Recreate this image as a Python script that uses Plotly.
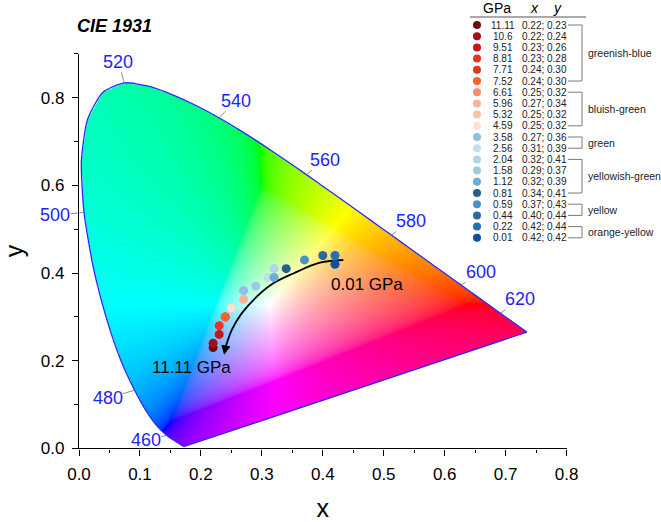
import numpy as np
import zlib, struct, base64
import plotly.graph_objects as go

# ---------------- data ----------------
pressure_labels = ["11.11", "10.6", "9.51", "8.81", "7.71", "7.52", "6.61", "5.96", "5.32", "4.59",
                   "3.58", "2.56", "2.04", "1.58", "1.12", "0.81", "0.59", "0.44", "0.22", "0.01"]
cie_x = [0.22, 0.22, 0.23, 0.23, 0.24, 0.24, 0.25, 0.27, 0.25, 0.25,
         0.27, 0.31, 0.32, 0.29, 0.32, 0.34, 0.37, 0.40, 0.42, 0.42]
cie_y = [0.23, 0.24, 0.26, 0.28, 0.30, 0.30, 0.32, 0.34, 0.32, 0.32,
         0.36, 0.39, 0.41, 0.37, 0.39, 0.41, 0.43, 0.44, 0.44, 0.42]
point_colors = ["#6e0b14", "#a50f15", "#c8141c", "#e8322a", "#e2381a", "#f8632c", "#fc8d6a", "#fcb499",
                "#fcc3ab", "#fde0d0", "#8ec0e0", "#c6dcef", "#b4d4ea", "#9ecae1", "#6aaed6", "#2b5e8c",
                "#4494c8", "#2a6a9c", "#2171b5", "#0b4f9e"]
group_names = ["greenish-blue", "bluish-green", "green", "yellowish-green", "yellow", "orange-yellow"]
group_first = [0, 6, 10, 12, 16, 18]
group_last = [5, 9, 11, 15, 17, 19]

# CIE 1931 2-degree spectral locus (chromaticity x, y), 380-700 nm every 5 nm
wavelengths = list(range(380, 705, 5))
locus_x = [0.1741, 0.1740, 0.1738, 0.1736, 0.1733, 0.1730, 0.1726, 0.1721, 0.1714, 0.1703,
           0.1689, 0.1669, 0.1644, 0.1611, 0.1566, 0.1510, 0.1440, 0.1355, 0.1241, 0.1096,
           0.0913, 0.0687, 0.0454, 0.0235, 0.0082, 0.0039, 0.0139, 0.0389, 0.0743, 0.1142,
           0.1547, 0.1929, 0.2296, 0.2658, 0.3016, 0.3373, 0.3731, 0.4087, 0.4441, 0.4788,
           0.5125, 0.5448, 0.5752, 0.6029, 0.6270, 0.6482, 0.6658, 0.6801, 0.6915, 0.7006,
           0.7079, 0.7140, 0.7190, 0.7230, 0.7260, 0.7283, 0.7300, 0.7311, 0.7320, 0.7327,
           0.7334, 0.7340, 0.7344, 0.7346, 0.7347]
locus_y = [0.0050, 0.0050, 0.0049, 0.0049, 0.0048, 0.0048, 0.0048, 0.0048, 0.0051, 0.0058,
           0.0069, 0.0086, 0.0109, 0.0138, 0.0177, 0.0227, 0.0297, 0.0399, 0.0578, 0.0868,
           0.1327, 0.2007, 0.2950, 0.4127, 0.5384, 0.6548, 0.7502, 0.8120, 0.8338, 0.8262,
           0.8059, 0.7816, 0.7543, 0.7243, 0.6923, 0.6589, 0.6245, 0.5896, 0.5547, 0.5202,
           0.4866, 0.4544, 0.4242, 0.3965, 0.3725, 0.3514, 0.3340, 0.3197, 0.3083, 0.2993,
           0.2920, 0.2859, 0.2809, 0.2770, 0.2740, 0.2717, 0.2700, 0.2689, 0.2680, 0.2673,
           0.2666, 0.2660, 0.2656, 0.2654, 0.2653]
marked_wavelengths = [460, 480, 500, 520, 540, 560, 580, 600, 620]
label_dx = [-21, -27, -29, -6, 17, 19, 20, 20, 20]     # label offset (px)
label_dy = [5, 8, 3, -21, -17, -15, -14, -13, -14]

FONT = "Arial, 'Liberation Sans', sans-serif"
W, H = 661, 522

# ---------------- chromaticity background image ----------------
def inside_poly(px, py, vx, vy):
    res = np.zeros(px.shape, bool)
    n = len(vx)
    j = n - 1
    for i in range(n):
        xi, yi, xj, yj = vx[i], vy[i], vx[j], vy[j]
        cond = (yi > py) != (yj > py)
        with np.errstate(divide="ignore", invalid="ignore"):
            xint = (xj - xi) * (py - yi) / (yj - yi) + xi
        res ^= cond & (px < xint)
        j = i
    return res


def png_uri(rgba):
    h, w, _ = rgba.shape
    raw = np.zeros((h, w * 4 + 1), np.uint8)
    raw[:, 1:] = rgba.reshape(h, -1)

    def chunk(t, d):
        return struct.pack(">I", len(d)) + t + d + struct.pack(">I", zlib.crc32(t + d) & 0xffffffff)

    png = (b"\x89PNG\r\n\x1a\n" + chunk(b"IHDR", struct.pack(">IIBBBBB", w, h, 8, 6, 0, 0, 0))
           + chunk(b"IDAT", zlib.compress(raw.tobytes(), 9)) + chunk(b"IEND", b""))
    return "data:image/png;base64," + base64.b64encode(png).decode()


gx0, gx1, gy0, gy1 = 0.0, 0.74, 0.0, 0.84
NW, NH = 640, 520
xs = gx0 + (np.arange(NW) + 0.5) * (gx1 - gx0) / NW
ys = gy1 - (np.arange(NH) + 0.5) * (gy1 - gy0) / NH
XX, YY = np.meshgrid(xs, ys)
inside = inside_poly(XX, YY, np.array(locus_x), np.array(locus_y))
Yc = np.maximum(YY, 1e-4)
XYZ = np.stack([XX / Yc, np.ones_like(XX), (1 - XX - YY) / Yc], axis=-1)
M = np.array([[3.2406, -1.5372, -0.4986],
              [-0.9689, 1.8758, 0.0415],
              [0.0557, -0.2040, 1.0570]])
rgb = XYZ @ M.T
mn = rgb.min(axis=-1, keepdims=True)
rgb = rgb - np.minimum(mn, 0)
rgb = rgb / np.maximum(rgb.max(axis=-1, keepdims=True), 1e-9)
rgb = np.clip(rgb, 0, 1)
rgb = np.where(rgb <= 0.0031308, 12.92 * rgb, 1.055 * np.power(rgb, 1 / 2.4) - 0.055)
rgba = np.zeros((NH, NW, 4), np.uint8)
rgba[..., :3] = np.round(rgb * 255).astype(np.uint8)
rgba[..., 3] = np.where(inside, 255, 0).astype(np.uint8)
gamut_uri = png_uri(rgba)

# ---------------- figure ----------------
fig = go.Figure()

# spectral locus outline
fig.add_trace(go.Scatter(x=locus_x, y=locus_y, mode="lines",
                         line=dict(color="#2a2aff", width=1.3, shape="spline", smoothing=0.6),
                         hoverinfo="skip", showlegend=False))
fig.add_trace(go.Scatter(x=[locus_x[-1], locus_x[0]], y=[locus_y[-1], locus_y[0]], mode="lines",
                         line=dict(color="#2a2aff", width=1.3), hoverinfo="skip", showlegend=False))

# pressure arrow curve
arrow_path_x = [0.4336, 0.3954, 0.3516, 0.3188, 0.2916, 0.2669, 0.2505, 0.2407, 0.2385]
arrow_path_y = [0.4297, 0.4235, 0.3990, 0.3765, 0.3460, 0.3080, 0.2700, 0.2320, 0.2200]
fig.add_trace(go.Scatter(x=arrow_path_x, y=arrow_path_y, mode="lines",
                         line=dict(color="black", width=1.8, shape="spline", smoothing=1.0),
                         hoverinfo="skip", showlegend=False))

# data points
fig.add_trace(go.Scatter(x=cie_x, y=cie_y, mode="markers",
                         marker=dict(color=point_colors, size=9, line=dict(width=0)),
                         text=pressure_labels, showlegend=False))

# legend table markers on a pixel-like overlay axis
row_y = [25 + 11.2 * i for i in range(len(pressure_labels))]
fig.add_trace(go.Scatter(x=[477] * len(row_y), y=row_y, mode="markers",
                         marker=dict(color=point_colors, size=8, line=dict(width=0)),
                         xaxis="x2", yaxis="y2", hoverinfo="skip", showlegend=False))

annotations = []
shapes = []
# wavelength labels
for wl, dx, dy in zip(marked_wavelengths, label_dx, label_dy):
    k = wavelengths.index(wl)
    annotations.append(dict(x=locus_x[k], y=locus_y[k], xref="x", yref="y", text=str(wl),
                            showarrow=True, arrowhead=0, arrowwidth=0.8, arrowcolor="#707070",
                            ax=dx, ay=dy, standoff=0, borderpad=0,
                            font=dict(family=FONT, size=18, color="#2323f5")))
# arrow head
annotations.append(dict(x=0.2380, y=0.2135, ax=0.2407, ay=0.2320, xref="x", yref="y", axref="x", ayref="y",
                        text="", showarrow=True, arrowhead=2, arrowsize=1.1, arrowwidth=1.7, arrowcolor="black"))
annotations.append(dict(x=0.1838, y=0.1845, xref="x", yref="y", text="11.11 GPa", showarrow=False,
                        font=dict(family=FONT, size=17, color="black")))
annotations.append(dict(x=0.4725, y=0.375, xref="x", yref="y", text="0.01 GPa", showarrow=False,
                        font=dict(family=FONT, size=17, color="black")))
annotations.append(dict(x=75, y=25.5, xref="x2", yref="y2", text="<b><i>CIE 1931</i></b>", showarrow=False,
                        xanchor="left", font=dict(family=FONT, size=18, color="black")))

# table header
annotations.append(dict(x=497, y=8, xref="x2", yref="y2", text="GPa", showarrow=False,
                        font=dict(family=FONT, size=14, color="black")))
annotations.append(dict(x=534, y=8, xref="x2", yref="y2", text="<i>x</i>", showarrow=False,
                        font=dict(family=FONT, size=14, color="black")))
annotations.append(dict(x=557, y=8, xref="x2", yref="y2", text="<i>y</i>", showarrow=False,
                        font=dict(family=FONT, size=14, color="black")))
shapes.append(dict(type="line", xref="x2", yref="y2", x0=470, x1=586, y0=17, y1=17,
                   line=dict(color="#555555", width=1)))
for lab, px_, py_, yy in zip(pressure_labels, cie_x, cie_y, row_y):
    annotations.append(dict(x=503, y=yy, xref="x2", yref="y2", text=lab, showarrow=False,
                            font=dict(family=FONT, size=10, color="#222222")))
    annotations.append(dict(x=544, y=yy, xref="x2", yref="y2", text=f"{px_:.2f}; {py_:.2f}",
                            showarrow=False, font=dict(family=FONT, size=10, color="#222222")))
for name, a, b in zip(group_names, group_first, group_last):
    y0, y1 = row_y[a], row_y[b]
    shapes.append(dict(type="path", xref="x2", yref="y2",
                       path=f"M568,{y0} L582,{y0} L582,{y1} L568,{y1}",
                       line=dict(color="#7a7a7a", width=1)))
    annotations.append(dict(x=586, y=(y0 + y1) / 2, xref="x2", yref="y2", text=name, showarrow=False,
                            xanchor="left", font=dict(family=FONT, size=10.5, color="#222222")))

# plot area geometry (pixels)
L, R, T, B = 79, 566.6, 53.8, 448.4
axis_common = dict(showline=True, linecolor="black", linewidth=1.3, ticks="outside", ticklen=6,
                   tickwidth=1.2, tickcolor="black", showgrid=False, zeroline=False, mirror=False,
                   ticklabelstandoff=4,
                   tickfont=dict(family=FONT, size=17, color="black"))
fig.update_layout(
    width=W, height=H, margin=dict(l=0, r=0, t=0, b=0, autoexpand=False),
    paper_bgcolor="white", plot_bgcolor="rgba(0,0,0,0)",
    xaxis=dict(domain=[L / W, R / W], range=[0, 0.8], tick0=0, dtick=0.1, tickformat=".1f",
               minor=dict(dtick=0.05, ticks="outside", ticklen=3.5, tickwidth=1.1, tickcolor="black"),
               title=dict(text="x", font=dict(family=FONT, size=25, color="black"), standoff=20),
               anchor="y", **axis_common),
    yaxis=dict(domain=[(H - B) / H, (H - T) / H], range=[0, 0.9001], tick0=0, dtick=0.2, tickformat=".1f",
               minor=dict(dtick=0.1, ticks="outside", ticklen=3.5, tickwidth=1.1, tickcolor="black"),
               title=dict(text="y", font=dict(family=FONT, size=25, color="black"), standoff=12),
               anchor="x", **axis_common),
    xaxis2=dict(domain=[0, 1], range=[0, W], visible=False, anchor="y2", fixedrange=True),
    yaxis2=dict(domain=[0, 1], range=[H, 0], visible=False, anchor="x2", fixedrange=True),
    images=[dict(source=gamut_uri, xref="x", yref="y", x=gx0, y=gy1, sizex=gx1 - gx0, sizey=gy1 - gy0,
                 xanchor="left", yanchor="top", sizing="stretch", layer="below")],
    annotations=annotations, shapes=shapes, showlegend=False,
)

fig.write_html("out.html")
